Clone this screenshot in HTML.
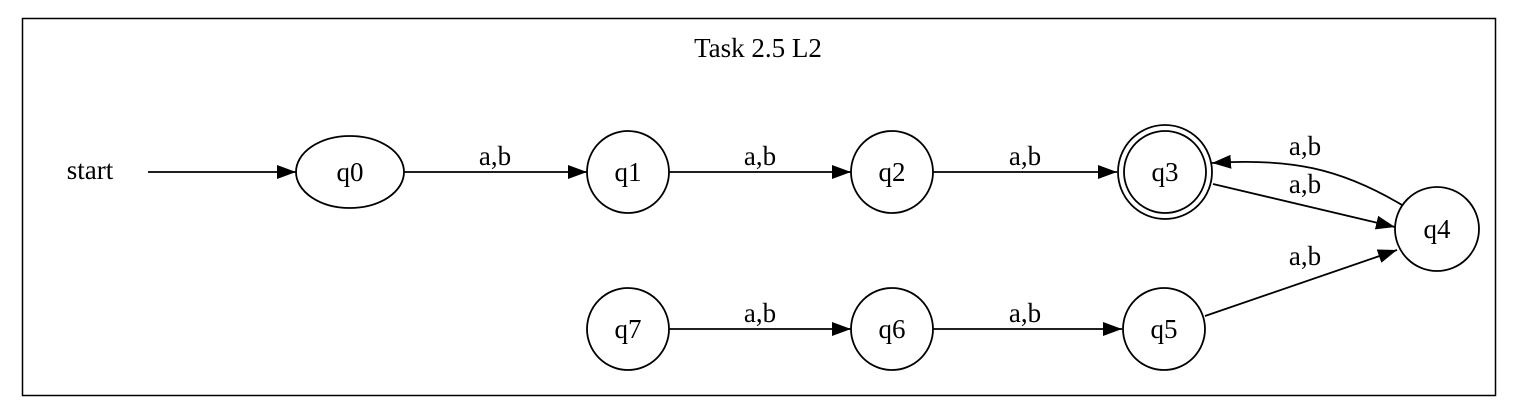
<!DOCTYPE html>
<html><head><meta charset="utf-8"><style>
html,body{margin:0;padding:0;background:#fff}
svg{display:block}
</style></head><body>
<svg width="1518" height="412" viewBox="0 0 1518 412" font-family="'Liberation Serif', serif" font-size="27">
<defs>
<marker id="ah" markerWidth="19" markerHeight="14" refX="19" refY="7" orient="auto" markerUnits="userSpaceOnUse">
<path d="M0,0 L19,7 L0,14 Z" fill="#000"/></marker>
</defs>
<rect x="22.5" y="18.5" width="1473" height="377" fill="#fff" stroke="#000" stroke-width="1.5"/>
<text x="758" y="57" text-anchor="middle">Task 2.5 L2</text>
<text x="90" y="179" text-anchor="middle">start</text>
<g fill="none" stroke="#000" stroke-width="1.8">
<line x1="148" y1="172" x2="296" y2="172" marker-end="url(#ah)"/>
<line x1="404" y1="172" x2="587" y2="172" marker-end="url(#ah)"/>
<line x1="669" y1="172" x2="851" y2="172" marker-end="url(#ah)"/>
<line x1="933" y1="172" x2="1117" y2="172" marker-end="url(#ah)"/>
<path d="M1402,205 C1340,168 1290,158 1212,163" marker-end="url(#ah)"/>
<line x1="1213" y1="184" x2="1395" y2="227" marker-end="url(#ah)"/>
<line x1="1205" y1="316" x2="1397" y2="250" marker-end="url(#ah)"/>
<line x1="669" y1="329" x2="851" y2="329" marker-end="url(#ah)"/>
<line x1="933" y1="329" x2="1122" y2="329" marker-end="url(#ah)"/>
</g>
<g text-anchor="middle">
<text x="495" y="165">a,b</text>
<text x="760" y="165">a,b</text>
<text x="1025" y="165">a,b</text>
<text x="1305" y="155">a,b</text>
<text x="1305" y="193">a,b</text>
<text x="1305" y="265">a,b</text>
<text x="760" y="322">a,b</text>
<text x="1025" y="322">a,b</text>
</g>
<g fill="#fff" stroke="#000" stroke-width="1.8">
<ellipse cx="350" cy="172" rx="54" ry="36"/>
<circle cx="628" cy="172" r="41"/>
<circle cx="892" cy="172" r="41"/>
<circle cx="1165" cy="172" r="47"/>
<circle cx="1165" cy="172" r="41"/>
<circle cx="1437" cy="229" r="42"/>
<circle cx="1164" cy="329" r="41"/>
<circle cx="892" cy="329" r="41"/>
<circle cx="628" cy="329" r="41"/>
</g>
<g text-anchor="middle">
<text x="350" y="181">q0</text>
<text x="628" y="181">q1</text>
<text x="892" y="181">q2</text>
<text x="1165" y="181">q3</text>
<text x="1437" y="238">q4</text>
<text x="1164" y="338">q5</text>
<text x="892" y="338">q6</text>
<text x="628" y="338">q7</text>
</g>
</svg>
</body></html>
